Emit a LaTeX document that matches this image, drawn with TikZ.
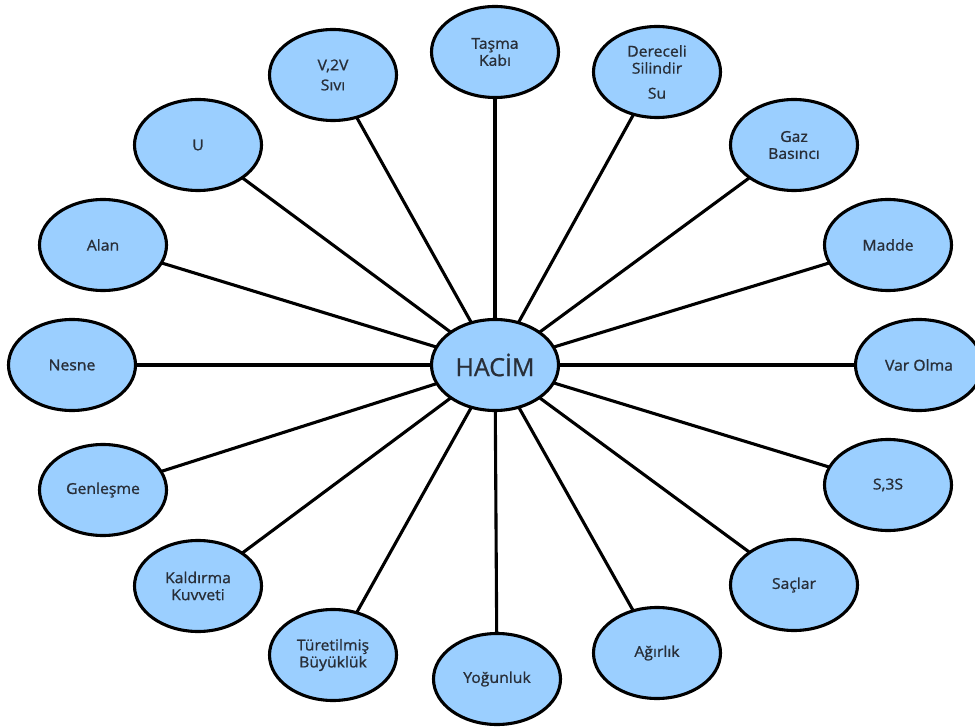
\documentclass[tikz,border=0pt]{standalone}
\usepackage{fontspec}
\setmainfont{Open Sans}
\newfontfamily\labelfont{Open Sans}[FakeBold=1.1,FakeStretch=1.05]
\newfontfamily\hubfont{Open Sans}[FakeBold=0.8]
\usetikzlibrary{shapes.geometric,backgrounds}
\definecolor{bubblefill}{RGB}{155,207,255}
\definecolor{ink}{RGB}{40,46,56}
\begin{document}
\begin{tikzpicture}[x=1pt,y=-1pt,
  bubble/.style={ellipse, draw=black, line width=3.1pt, fill=bubblefill,
    minimum width=127pt, minimum height=91pt, inner sep=0pt, align=center,
    text=ink, font=\labelfont\fontsize{15}{17}\selectfont},
  hub/.style={bubble, font=\hubfont\fontsize{25}{29}\selectfont},
  spoke/.style={line width=3.1pt, draw=black}]
\useasboundingbox (0,0) rectangle (975,727);

\node[hub] (c) at (495,365) {HACİM};

\node[bubble] (n1)  at (495,52)  {Taşma\\Kabı};
\node[bubble] (n2)  at (657,72)  {Dereceli\\Silindir\\[8pt]Su};
\node[bubble] (n3)  at (794,145) {Gaz\\Basıncı};
\node[bubble] (n4)  at (888,245) {Madde};
\node[bubble] (n5)  at (919,365) {Var Olma};
\node[bubble] (n6)  at (888,485) {S,3S};
\node[bubble] (n7)  at (794,585) {Saçlar};
\node[bubble] (n8)  at (657,653) {Ağırlık};
\node[bubble] (n9)  at (497,679) {Yoğunluk};
\node[bubble] (n10) at (333,655) {Türetilmiş\\Büyüklük};
\node[bubble] (n11) at (198,586) {Kaldırma\\Kuvveti};
\node[bubble] (n12) at (103,490) {Genleşme};
\node[bubble] (n13) at (72,365)  {Nesne};
\node[bubble] (n14) at (103,245) {Alan};
\node[bubble] (n15) at (198,145) {U};
\node[bubble] (n16) at (333,75)  {V,2V\\[3pt]Sıvı};

\begin{scope}[on background layer]
  \foreach \n in {n1,n2,n3,n4,n5,n6,n7,n8,n9,n10,n11,n12,n13,n14,n15,n16}
    \draw[spoke] (c.center) -- (\n.center);
\end{scope}
\end{tikzpicture}
\end{document}
